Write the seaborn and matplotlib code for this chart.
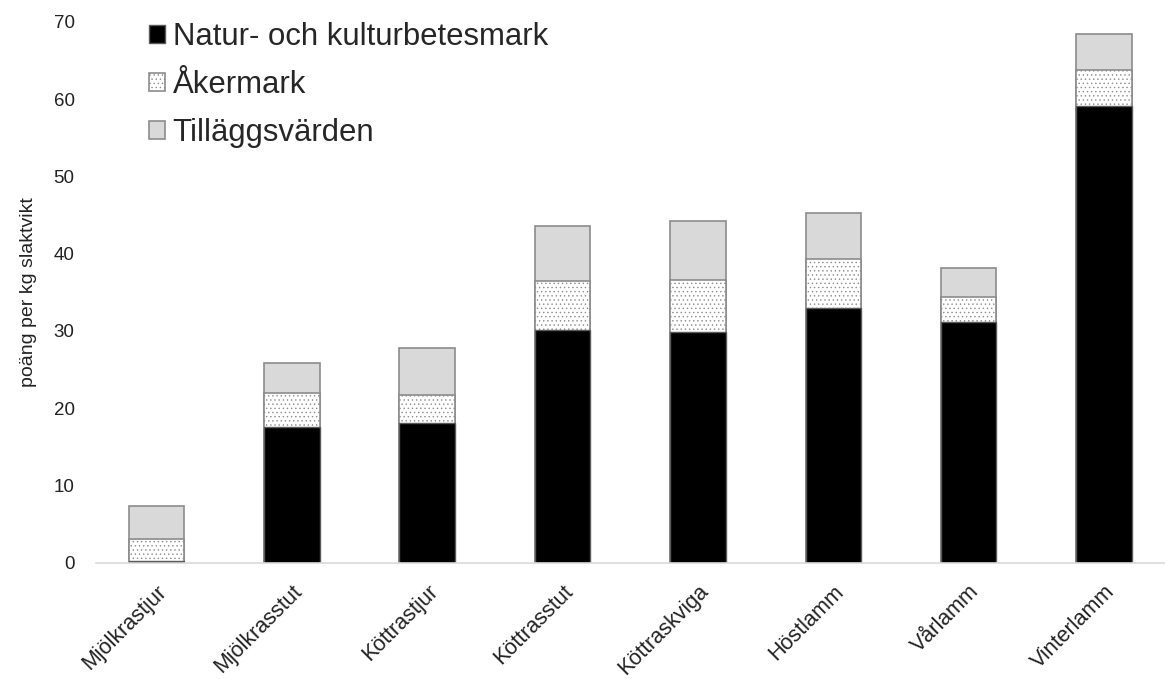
import numpy as np
import pandas as pd
import matplotlib
matplotlib.use("Agg")
import matplotlib.pyplot as plt
import seaborn as sns

categories = ["Mjölkrastjur", "Mjölkrasstut", "Köttrastjur", "Köttrasstut",
              "Köttraskviga", "Höstlamm", "Vårlamm", "Vinterlamm"]
natur = [0.3, 17.6, 18.1, 30.1, 29.9, 33.0, 31.2, 59.1]
aker = [2.8, 4.4, 3.6, 6.3, 6.7, 6.3, 3.2, 4.7]
tillagg = [4.3, 3.9, 6.1, 7.2, 7.6, 6.0, 3.8, 4.6]
series_names = ["Natur- och kulturbetesmark", "Åkermark", "Tilläggsvärden"]
y_ticks = [0, 10, 20, 30, 40, 50, 60, 70]

df = pd.DataFrame({"kategori": categories, "natur": natur, "aker": aker, "tillagg": tillagg})
df["natur_aker"] = df["natur"] + df["aker"]
df["total"] = df["natur_aker"] + df["tillagg"]

sns.set_theme(style="white")
plt.rcParams["font.family"] = ["Liberation Sans", "DejaVu Sans"]
plt.rcParams["hatch.color"] = "#a6a6a6"
plt.rcParams["hatch.linewidth"] = 0.5

fig = plt.figure(figsize=(11.65, 6.79), dpi=100)
ax = fig.add_axes([0.082, 0.171, 0.918, 0.797])

w = 0.41
# stack by painting cumulative totals back to front
sns.barplot(data=df, x="kategori", y="total", color="#d9d9d9", edgecolor="#8c8c8c",
            linewidth=1.2, width=w, saturation=1, ax=ax, label=series_names[2])
sns.barplot(data=df, x="kategori", y="natur_aker", color="#ffffff", edgecolor="#8c8c8c",
            linewidth=1.2, width=w, saturation=1, hatch="....", ax=ax, label=series_names[1])
sns.barplot(data=df, x="kategori", y="natur", color="#000000", edgecolor="#5a5a5a",
            linewidth=1.0, width=w, saturation=1, ax=ax, label=series_names[0])

ax.set_ylim(0, 70)
ax.set_xlim(-0.45, 7.45)
ax.set_yticks(y_ticks)
ax.tick_params(axis="y", labelsize=13.5, colors="#222222", length=0, pad=15)
ax.tick_params(axis="x", labelsize=15.5, colors="#222222", length=0, pad=13)
plt.setp(ax.get_xticklabels(), rotation=45, ha="right", rotation_mode="anchor")
ax.set_xlabel("")
ax.set_ylabel("poäng per kg slaktvikt", fontsize=14, color="#222222", labelpad=12)

for side in ["top", "right", "left"]:
    ax.spines[side].set_visible(False)
ax.spines["bottom"].set_color("#d9d9d9")
ax.spines["bottom"].set_linewidth(1.2)

handles, labels = ax.get_legend_handles_labels()
order = [labels.index(n) for n in series_names]
ax.legend([handles[i] for i in order], [labels[i] for i in order],
          loc="upper left", bbox_to_anchor=(0.038, 1.022), frameon=False,
          fontsize=22.4, handlelength=0.52, handleheight=0.52, handletextpad=0.25,
          labelspacing=0.58, borderaxespad=0)

fig.savefig("out.png", dpi=100)
